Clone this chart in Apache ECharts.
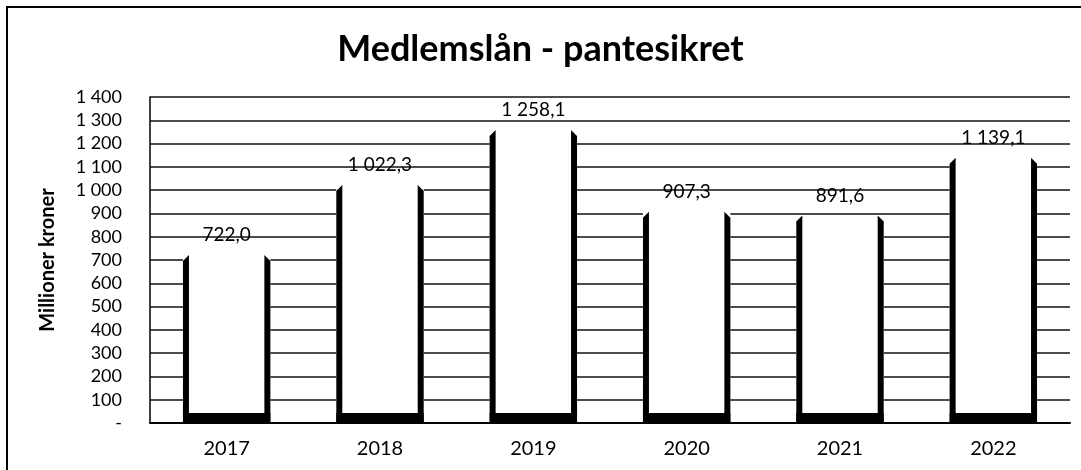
<!DOCTYPE html>
<html>
<head>
<meta charset="utf-8">
<script src="https://cdn.jsdelivr.net/npm/echarts@6/dist/echarts.min.js"></script>
<style>
  html, body { margin: 0; padding: 0; background: #fff; }
  #chart { width: 1081px; height: 470px; }
</style>
</head>
<body>
<div id="chart"></div>
<script>
// data
var years = ['2017', '2018', '2019', '2020', '2021', '2022'];
var loans = [722.0, 1022.3, 1258.1, 907.3, 891.6, 1139.1];
var yTicks = { min: 0, max: 1400, step: 100 };

// "1 258,1" style numbers
function fmt(v, dec) {
  var parts = v.toFixed(dec).split('.');
  var s = parts[0].replace(/\B(?=(\d{3})+(?!\d))/g, ' ');
  return parts.length > 1 ? s + ',' + parts[1] : s;
}

var font = 'Lato, "Noto Sans", sans-serif';

var options = {
  animation: false,
  title: {
    text: 'Medlemslån - pantesikret',
    left: 'center',
    top: 26,
    textStyle: { fontFamily: font, fontSize: 36, fontWeight: 'bold', color: '#000' }
  },
  grid: { left: 150, right: 11, top: 97, bottom: 47 },
  xAxis: {
    type: 'category',
    data: years,
    axisTick: { show: false },
    axisLine: { lineStyle: { color: '#000', width: 2 } },
    axisLabel: { color: '#000', fontFamily: font, fontSize: 20, margin: 16 }
  },
  yAxis: {
    type: 'value',
    min: yTicks.min,
    max: yTicks.max,
    interval: yTicks.step,
    name: 'Millioner kroner',
    nameLocation: 'middle',
    nameGap: 92,
    nameTextStyle: { fontFamily: font, fontSize: 20, fontWeight: 'bold', color: '#000' },
    axisLine: { show: true, lineStyle: { color: '#000', width: 1.5 } },
    axisTick: { show: false },
    axisLabel: {
      color: '#000', fontFamily: font, fontSize: 18, margin: 28,
      formatter: function (v) { return v === 0 ? '-' : fmt(v, 0); }
    },
    splitLine: { show: true, lineStyle: { color: '#111', width: 1.5 } }
  },
  graphic: [
    { type: 'polyline', shape: { points: [[7, 470], [7, 7], [1081, 7]] },
      style: { stroke: '#000', lineWidth: 2, fill: null } }
  ],
  series: [{
    type: 'custom',
    data: loans.map(function (v, i) { return [i, v]; }),
    encode: { x: 0, y: 1 },
    renderItem: function (params, api) {
      var v = api.value(1);
      var top = api.coord([api.value(0), v]);
      var base = api.coord([api.value(0), 0]);
      var w = api.size([1, 0])[0] * 0.57;
      var x0 = top[0] - w / 2, x1 = top[0] + w / 2;
      var yt = top[1], yb = base[1];
      return {
        type: 'group',
        children: [
          { type: 'rect', shape: { x: x0, y: yt, width: w, height: yb - yt }, style: { fill: '#fff' } },
          { type: 'polygon', shape: { points: [[x0, yb], [x0, yt + 6], [x0 + 6, yt], [x0 + 6, yb]] }, style: { fill: '#000' } },
          { type: 'polygon', shape: { points: [[x1 - 6, yb], [x1 - 6, yt], [x1, yt + 6], [x1, yb]] }, style: { fill: '#000' } },
          { type: 'rect', shape: { x: x0, y: yb - 10, width: w, height: 10 }, style: { fill: '#000' } },
          { type: 'text', style: {
              text: fmt(v, 1), x: top[0], y: yt - 20, align: 'center', verticalAlign: 'middle',
              font: '19px ' + font, fill: '#000' } }
        ]
      };
    }
  }]
};

echarts.init(document.getElementById('chart')).setOption(options);
</script>
</body>
</html>
